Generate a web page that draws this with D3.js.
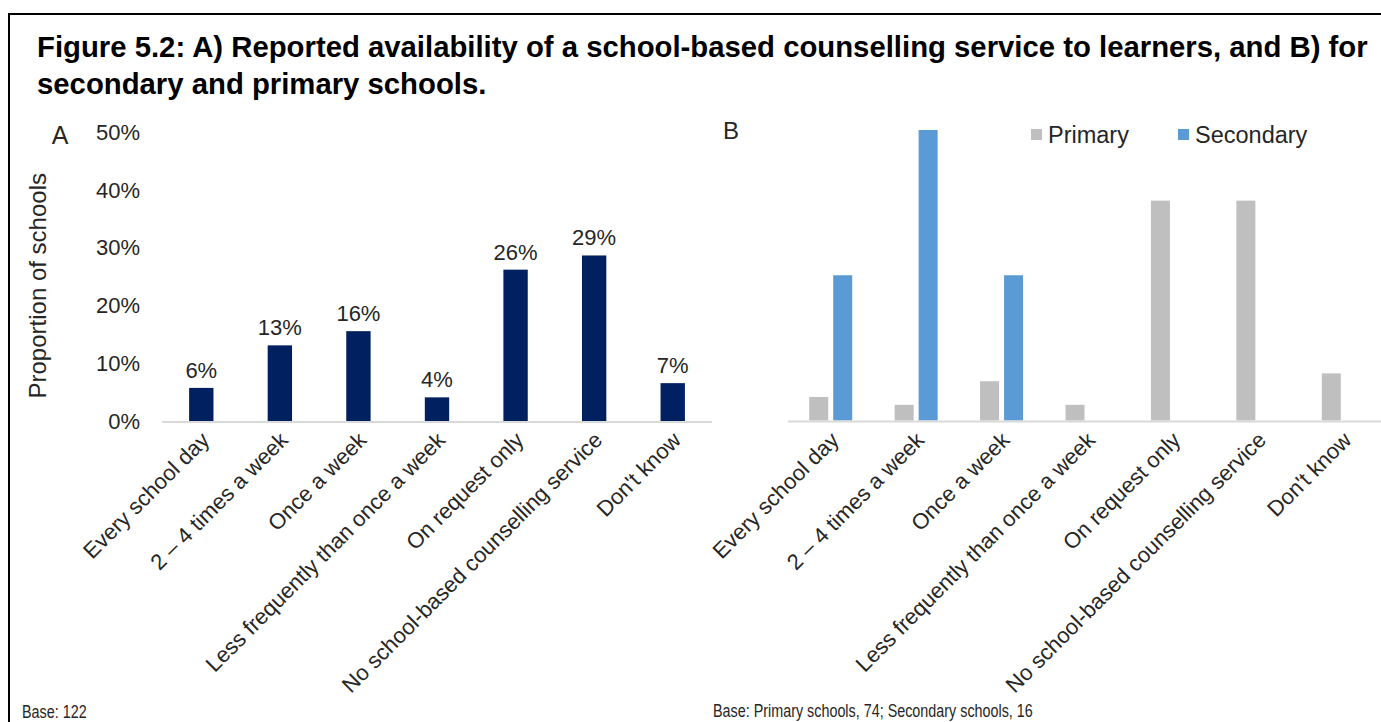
<!DOCTYPE html>
<html>
<head>
<meta charset="utf-8">
<script src="https://cdn.jsdelivr.net/npm/d3@7"></script>
<style>
  html, body { margin: 0; padding: 0; background: #fff; }
  svg { display: block; font-family: "Liberation Sans", Arial, sans-serif; }
</style>
</head>
<body>
<svg id="chart" width="1381" height="722"></svg>
<script>
// Categories shared by both panels
const categories = [
  "Every school day",
  "2 \u2013 4 times a week",
  "Once a week",
  "Less frequently than once a week",
  "On request only",
  "No school-based counselling service",
  "Don't know"
];

// Panel A: all schools (base 122), percent
const allSchools = [5.74, 13.11, 15.57, 4.10, 26.23, 28.69, 6.56];

// Panel B: by school phase, percent
const seriesNames = ["Primary", "Secondary"];
const primaryValues = [4.05, 2.70, 6.76, 2.70, 37.84, 37.84, 8.11];
const secondaryValues = [25, 50, 25, 0, 0, 0, 0];

const yTicks = [0, 10, 20, 30, 40, 50];

const colorA = "#002060";
const seriesColors = { Primary: "#BFBFBF", Secondary: "#5B9BD5" };

const svg = d3.select("#chart");

// Frame
svg.append("rect")
  .attr("x", 9).attr("y", 14)
  .attr("width", 1400).attr("height", 740)
  .attr("fill", "#fff")
  .attr("stroke", "#000").attr("stroke-width", 2);

// Title
const title = svg.append("text")
  .attr("font-size", 29.3).attr("font-weight", "bold").attr("fill", "#000");
title.append("tspan").attr("x", 37).attr("y", 57)
  .text("Figure 5.2: A) Reported availability of a school-based counselling service to learners, and B) for");
title.append("tspan").attr("x", 37).attr("y", 94)
  .text("secondary and primary schools.");

const textColor = "#262626";
const fs = 22;

// Condensed footnote text (horizontal squeeze of the regular face)
function footnote(x, y, txt) {
  svg.append("text")
    .attr("transform", `translate(${x},${y}) scale(0.82,1)`)
    .attr("font-size", 17.5).attr("fill", textColor).text(txt);
}

// ---------- Panel A ----------
const xA = d3.scaleBand().domain(categories).range([162, 712])
  .paddingInner(0.69).paddingOuter(0.345);
const yA = d3.scaleLinear().domain([0, 50]).range([421, 132.5]);

const gA = svg.append("g");

gA.append("text").attr("x", 60).attr("y", 144)
  .attr("text-anchor", "middle").attr("font-size", 25).attr("fill", textColor).text("A");

// y axis labels only
const yAxisA = d3.axisLeft(yA).tickValues(yTicks).tickFormat(d => d + "%").tickSize(0).tickPadding(0);
gA.append("g").attr("transform", "translate(140,0)").call(yAxisA)
  .call(g => g.select(".domain").remove())
  .call(g => g.selectAll("text").attr("font-size", fs).attr("fill", textColor)
    .attr("font-family", "'Liberation Sans', Arial, sans-serif"));

gA.append("text")
  .attr("transform", `translate(46,${(yA(0) + yA(50)) / 2 + 9}) rotate(-90)`)
  .attr("text-anchor", "middle").attr("font-size", 24).attr("fill", textColor)
  .text("Proportion of schools");

gA.selectAll("rect.bar").data(allSchools).join("rect")
  .attr("class", "bar")
  .attr("x", (d, i) => xA(categories[i]))
  .attr("width", xA.bandwidth())
  .attr("y", d => yA(d))
  .attr("height", d => yA(0) - yA(d))
  .attr("fill", colorA);

gA.selectAll("text.val").data(allSchools).join("text")
  .attr("class", "val")
  .attr("x", (d, i) => xA(categories[i]) + xA.bandwidth() / 2)
  .attr("y", d => yA(d) - 10)
  .attr("text-anchor", "middle").attr("font-size", fs).attr("fill", textColor)
  .text(d => Math.round(d) + "%");

gA.append("line").attr("x1", 162).attr("x2", 712)
  .attr("y1", yA(0) + 1).attr("y2", yA(0) + 1)
  .attr("stroke", "#D9D9D9").attr("stroke-width", 2);

gA.selectAll("text.cat").data(categories).join("text")
  .attr("class", "cat")
  .attr("transform", d => `translate(${xA(d) + xA.bandwidth() / 2 + 4},436) rotate(-45)`)
  .attr("text-anchor", "end").attr("dy", "0.35em")
  .attr("font-size", fs).attr("fill", textColor)
  .text(d => d);

footnote(22, 718, "Base: 122");

// ---------- Panel B ----------
const xB = d3.scaleBand().domain(categories).range([788, 1386])
  .paddingInner(0.497).paddingOuter(0.2485);
const xB1 = d3.scaleBand().domain(seriesNames).range([0, xB.bandwidth()]).paddingInner(0.208);
const yB = d3.scaleLinear().domain([0, 50]).range([420.5, 130]);

const gB = svg.append("g");

gB.append("text").attr("x", 731).attr("y", 139)
  .attr("text-anchor", "middle").attr("font-size", 24).attr("fill", textColor).text("B");

const rowsB = categories.map((c, i) => ({
  cat: c,
  vals: [
    { key: "Primary", v: primaryValues[i] },
    { key: "Secondary", v: secondaryValues[i] }
  ]
}));

gB.selectAll("g.grp").data(rowsB).join("g")
  .attr("class", "grp")
  .attr("transform", d => `translate(${xB(d.cat)},0)`)
  .selectAll("rect").data(d => d.vals.filter(s => s.v > 0)).join("rect")
  .attr("x", s => xB1(s.key))
  .attr("width", xB1.bandwidth())
  .attr("y", s => yB(s.v))
  .attr("height", s => yB(0) - yB(s.v))
  .attr("fill", s => seriesColors[s.key]);

gB.append("line").attr("x1", 788).attr("x2", 1386)
  .attr("y1", yB(0) + 1).attr("y2", yB(0) + 1)
  .attr("stroke", "#D9D9D9").attr("stroke-width", 2);

gB.selectAll("text.cat").data(categories).join("text")
  .attr("class", "cat")
  .attr("transform", d => `translate(${xB(d) + xB.bandwidth() / 2 + 4},436) rotate(-45)`)
  .attr("text-anchor", "end").attr("dy", "0.35em")
  .attr("font-size", fs).attr("fill", textColor)
  .text(d => d);

// Legend
const legend = gB.append("g");
const legendX = [1031, 1178];
seriesNames.forEach((name, i) => {
  legend.append("rect").attr("x", legendX[i]).attr("y", 129)
    .attr("width", 11).attr("height", 11).attr("fill", seriesColors[name]);
  legend.append("text").attr("x", legendX[i] + 17).attr("y", 143)
    .attr("font-size", 23.5).attr("fill", textColor).text(name);
});

footnote(713, 717, "Base: Primary schools, 74; Secondary schools, 16");
</script>
</body>
</html>
